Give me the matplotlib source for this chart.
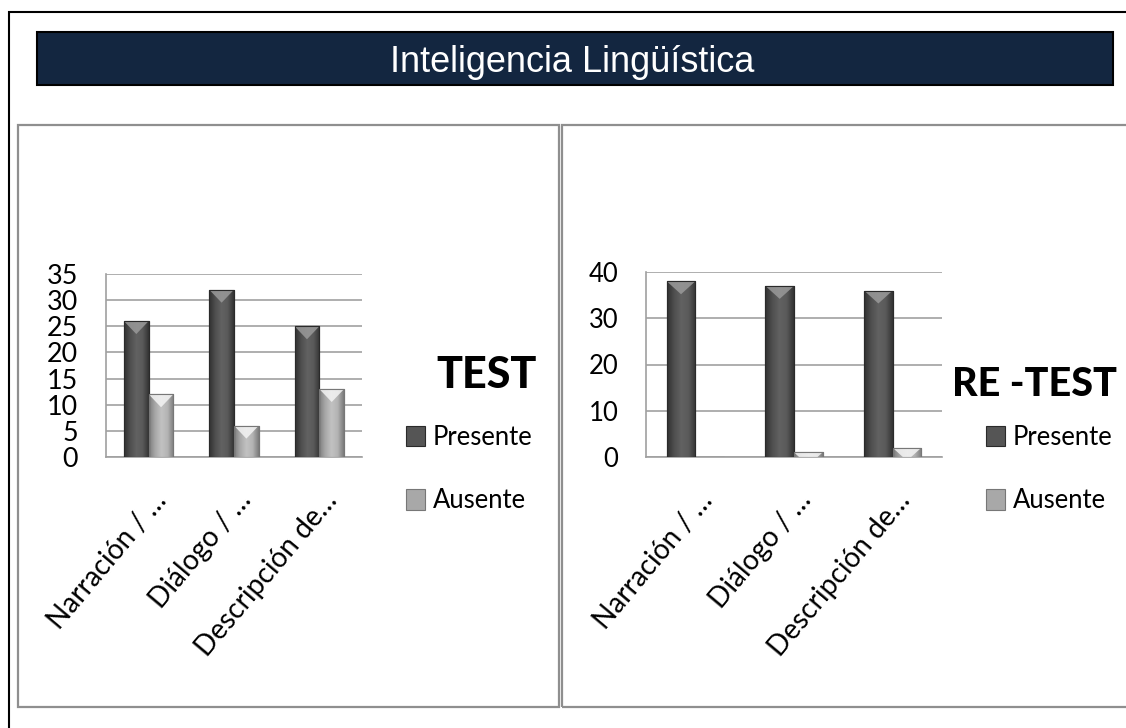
import matplotlib
matplotlib.use('Agg')
import matplotlib.pyplot as plt
import numpy as np
from matplotlib import font_manager
from matplotlib.patches import Rectangle, Polygon
from matplotlib.colors import LinearSegmentedColormap

# ---------------- data ----------------
main_title = 'Inteligencia Lingüística'
categories = ['Narración / …', 'Diálogo / …', 'Descripción de…']
series_names = ['Presente', 'Ausente']
test_title = 'TEST'
test_presente = [26, 32, 25]
test_ausente = [12, 6, 13]
test_ticks = [0, 5, 10, 15, 20, 25, 30, 35]
retest_title = 'RE -TEST'
retest_presente = [38, 37, 36]
retest_ausente = [0, 1, 2]
retest_ticks = [0, 10, 20, 30, 40]

# ---------------- setup ----------------
W, H = 1126, 728
names = {f.name for f in font_manager.fontManager.ttflist}
if 'Liberation Sans Narrow' in names:
    NARROW, K = 'Liberation Sans Narrow', 1.0
else:
    NARROW, K = 'Lato', 0.84
SANS = 'Liberation Sans' if 'Liberation Sans' in names else 'DejaVu Sans'

fig = plt.figure(figsize=(W / 100, H / 100), dpi=100)
fig.patch.set_facecolor('white')


def px_rect(x0, y0, x1, y1):
    return [x0 / W, 1 - y1 / H, (x1 - x0) / W, (y1 - y0) / H]


def fig_rect(x0, y0, x1, y1, **kw):
    r = Rectangle((x0 / W, 1 - y1 / H), (x1 - x0) / W, (y1 - y0) / H,
                  transform=fig.transFigure, **kw)
    fig.patches.append(r)
    return r


# outer frame, banner, panels
fig_rect(9, 12, 1140, 745, fill=False, ec='black', lw=1.5)
fig_rect(37, 32, 1113, 85, fc='#132640', ec='black', lw=1.5)
fig.text(572 / W, 1 - 63 / H, main_title, ha='center', va='center',
         color='white', fontsize=26, family=SANS)
fig_rect(18, 125, 559, 707, fill=False, ec='#8f8f8f', lw=1.6)
fig_rect(562, 125, 1140, 707, fill=False, ec='#8f8f8f', lw=1.6)

pres_cmap = LinearSegmentedColormap.from_list(
    'p', ['#303030', '#4f4f4f', '#626262', '#5a5a5a', '#333333'])
aus_cmap = LinearSegmentedColormap.from_list(
    'a', ['#7c7c7c', '#a8a8a8', '#c2c2c2', '#b4b4b4', '#7a7a7a'])

BW = 0.29
x = np.arange(len(categories))


def draw_series(ax, vals, offset, cmap, face, edge, tri_color, units_per_px):
    bars = ax.bar(x + offset, vals, width=BW, color=face, edgecolor=edge,
                  lw=0.8, zorder=3)
    grad = np.linspace(0, 1, 128).reshape(1, -1)
    for b in bars:
        x0, w, h = b.get_x(), b.get_width(), b.get_height()
        if h <= 0:
            continue
        im = ax.imshow(grad, cmap=cmap, extent=(x0, x0 + w, 0, h),
                       aspect='auto', zorder=3.1, interpolation='bilinear')
        im.set_clip_path(b)
        th = 13 * units_per_px
        tri = Polygon([(x0, h), (x0 + w, h), (x0 + w / 2, h - th)],
                      closed=True, fc=tri_color, ec='none', alpha=0.85,
                      zorder=3.2)
        ax.add_patch(tri)
        tri.set_clip_path(b)
        ax.add_patch(Rectangle((x0, 0), w, h, fill=False, ec=edge, lw=0.8,
                               zorder=3.3))
    return bars


def make_chart(rect_px, pres, aus, ticks, tick_fs, title, title_xy, title_fs,
               legend_xy):
    ax = fig.add_axes(px_rect(*rect_px))
    ymax = ticks[-1]
    hpx = rect_px[3] - rect_px[1]
    upp = ymax / hpx
    b1 = draw_series(ax, pres, -BW / 2, pres_cmap, '#555555', '#2a2a2a',
                     '#9a9a9a', upp)
    b2 = draw_series(ax, aus, BW / 2, aus_cmap, '#a8a8a8', '#777777',
                     '#f4f4f4', upp)
    ax.set_xlim(-0.5, len(categories) - 0.5)
    ax.set_ylim(0, ymax)
    ax.set_yticks(ticks, labels=[str(t) for t in ticks],
                  fontfamily=NARROW, fontsize=tick_fs * K)
    ax.set_xticks(x)
    ax.tick_params(axis='y', length=0, pad=20, colors='black')
    ax.tick_params(axis='x', length=0, labelbottom=False)
    ax.yaxis.grid(True, color='#a8a8a8', lw=1.3)
    ax.set_axisbelow(True)
    for s in ('top', 'right'):
        ax.spines[s].set_visible(False)
    for s in ('left', 'bottom'):
        ax.spines[s].set_color('#a0a0a0')
        ax.spines[s].set_linewidth(1.2)
    ax.set_facecolor('none')
    for i, cat in enumerate(categories):
        ax.annotate(cat, xy=(i, 0), xycoords=('data', 'axes fraction'),
                    xytext=(19 * 0.72, -44 * 0.72), textcoords='offset points',
                    rotation=50, rotation_mode='anchor', ha='right',
                    va='baseline', fontsize=24 * K, family=NARROW)
    fig.text(title_xy[0] / W, 1 - title_xy[1] / H, title, ha='center',
             va='center', fontsize=title_fs * K, fontweight='black',
             family=NARROW)
    ax.legend([b1, b2], series_names, loc='upper left',
              bbox_to_anchor=(legend_xy[0] / W, 1 - legend_xy[1] / H),
              bbox_transform=fig.transFigure, frameon=False,
              borderpad=0, borderaxespad=0, handlelength=0.75,
              handleheight=0.85, handletextpad=0.3, labelspacing=1.5,
              prop={'family': NARROW, 'size': 22 * K})
    return ax


make_chart((106, 274, 362, 457), test_presente, test_ausente, test_ticks, 23,
           test_title, (487, 375), 37, (406, 425))
make_chart((646, 272, 942, 457), retest_presente, retest_ausente,
           retest_ticks, 22, retest_title, (1034, 384), 34, (986, 425))

fig.savefig('out.png', dpi=100, facecolor='white')
